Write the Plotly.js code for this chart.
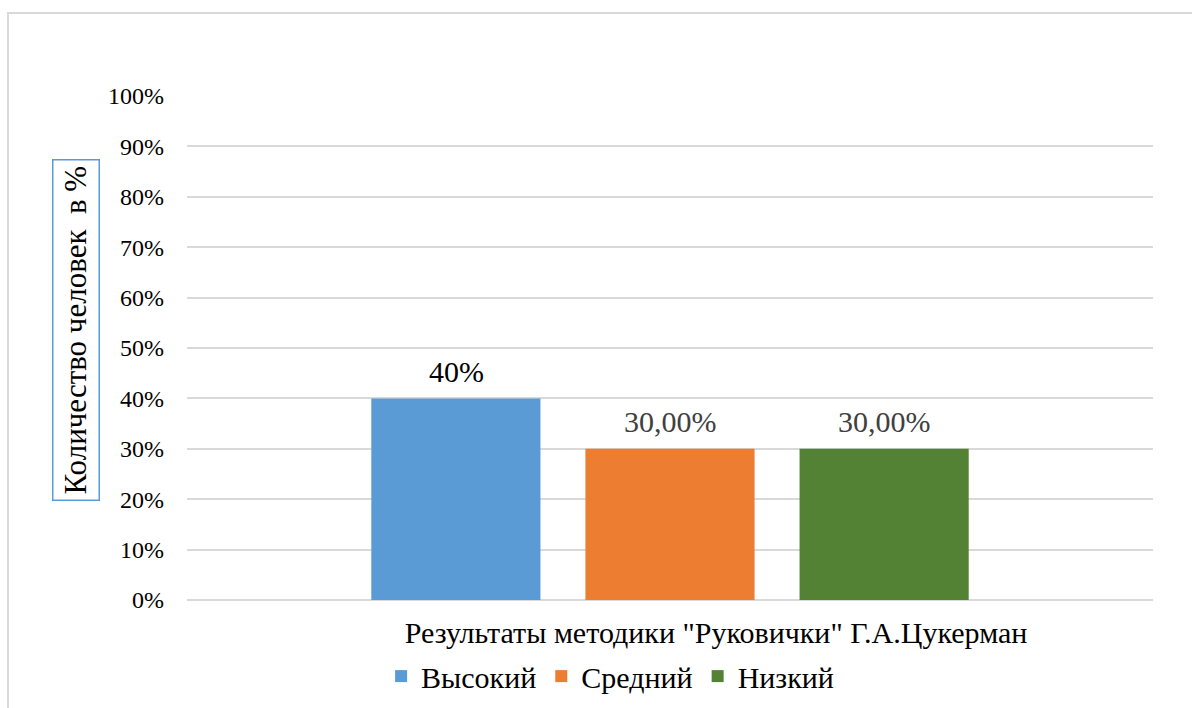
<!DOCTYPE html>
<html>
<head>
<meta charset="utf-8">
<script src="https://cdn.plot.ly/plotly-3.0.1.min.js"></script>
<style>
  #chart text, #chart .legendtext, #chart .annotation-text {
    font-family: 'Liberation Serif', 'Times New Roman', serif !important;
  }
</style>
</head>
<body style="margin:0">
<div id="chart" style="width:1192px;height:708px"></div>
<script>
const categories = ['Результаты методики "Руковички" Г.А.Цукерман'];
const seriesNames = ['Высокий', 'Средний', 'Низкий'];
const seriesValues = [[0.40], [0.30], [0.30]];
const seriesLabels = ['40%', '30,00%', '30,00%'];
const seriesColors = ['#5b9bd5', '#ed7d31', '#548235'];
const labelColors = ['#000000', '#404040', '#404040'];
const yTickVals = [0, 0.1, 0.2, 0.3, 0.4, 0.5, 0.6, 0.7, 0.8, 0.9, 1.0];
const yTickText = ['0%', '10%', '20%', '30%', '40%', '50%', '60%', '70%', '80%', '90%', '100%'];
const yTitle = 'Количество человек  в %';

const traces = seriesNames.map((name, i) => ({
  type: 'bar',
  name: name,
  x: categories,
  y: seriesValues[i],
  marker: { color: seriesColors[i] },
  hoverinfo: 'none'
}));

const slotOffsets = [-214, 0, 214];
const annotations = seriesNames.map((name, i) => ({
  x: categories[0],
  y: seriesValues[i][0],
  xref: 'x', yref: 'y',
  text: seriesLabels[i],
  showarrow: false,
  xshift: slotOffsets[i],
  yshift: 27,
  font: { family: 'Liberation Serif', size: 30, color: labelColors[i] }
}));

annotations.push({
  xref: 'paper', yref: 'paper',
  x: -0.1149, y: 0.5357,
  xanchor: 'center', yanchor: 'middle',
  text: yTitle,
  textangle: -90,
  showarrow: false,
  font: { family: 'Liberation Serif', size: 31, color: '#000000' },
  bordercolor: '#5b9bd5',
  borderwidth: 1.5,
  borderpad: 5,
  bgcolor: '#ffffff'
});

const layout = {
  width: 1192,
  height: 708,
  margin: { l: 187, r: 39, t: 96, b: 108, autoexpand: false },
  paper_bgcolor: '#ffffff',
  plot_bgcolor: '#ffffff',
  barmode: 'group',
  bargap: 0.335,
  bargroupgap: 0.21,
  showlegend: true,
  legend: {
    orientation: 'h',
    x: 0.438, xanchor: 'center',
    y: -0.151, yanchor: 'middle',
    font: { family: 'Liberation Serif', size: 30, color: '#000000' },
    itemwidth: 30,
    traceorder: 'normal'
  },
  xaxis: {
    type: 'category',
    automargin: false,
    showgrid: false,
    showline: false,
    zeroline: false,
    ticks: '',
    tickfont: { family: 'Liberation Serif', size: 30, color: '#000000' },
    ticklabelshift: 46,
    ticklabelstandoff: 12
  },
  yaxis: {
    range: [0, 1],
    automargin: false,
    tickvals: yTickVals,
    ticktext: yTickText,
    tickfont: { family: 'Liberation Serif', size: 24, color: '#000000' },
    showgrid: true,
    gridcolor: '#d9d9d9',
    gridwidth: 1.5,
    zeroline: true,
    zerolinecolor: '#d9d9d9',
    zerolinewidth: 1.5,
    showline: false,
    ticks: '',
    ticklabelstandoff: 22
  },
  shapes: [{
    type: 'rect',
    xref: 'paper', yref: 'paper',
    x0: -0.1853, x1: 1.2,
    y0: -0.5, y1: 1.1647,
    line: { color: '#d9d9d9', width: 2 },
    fillcolor: 'rgba(0,0,0,0)',
    layer: 'below'
  }],
  annotations: annotations
};

Plotly.newPlot('chart', traces, layout, { displayModeBar: false });
</script>
</body>
</html>
